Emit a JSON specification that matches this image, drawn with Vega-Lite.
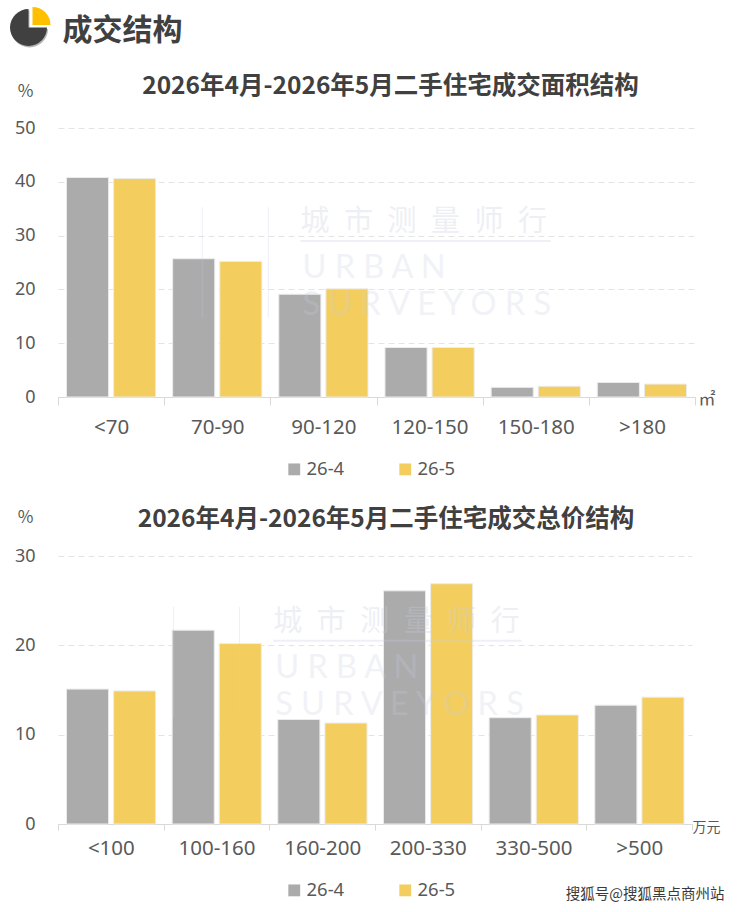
{
  "$schema": "https://vega.github.io/schema/vega-lite/v6.json",
  "padding": {"left": 10, "top": 0, "right": 0, "bottom": 0},
  "background": "white",
  "config": {
    "font": "Noto Sans CJK SC",
    "view": {"stroke": null},
    "axis": {"labelFont": "Noto Sans", "titleFont": "Noto Sans CJK SC"},
    "legend": {"labelFont": "Noto Sans"}
  },
  "datasets": {
    "area": [
      {"band": "<70", "month": "26-4", "share": 40.8},
      {"band": "<70", "month": "26-5", "share": 40.6},
      {"band": "70-90", "month": "26-4", "share": 25.7},
      {"band": "70-90", "month": "26-5", "share": 25.2},
      {"band": "90-120", "month": "26-4", "share": 19.1},
      {"band": "90-120", "month": "26-5", "share": 20.1},
      {"band": "120-150", "month": "26-4", "share": 9.2},
      {"band": "120-150", "month": "26-5", "share": 9.2},
      {"band": "150-180", "month": "26-4", "share": 1.8},
      {"band": "150-180", "month": "26-5", "share": 2.0},
      {"band": ">180", "month": "26-4", "share": 2.7},
      {"band": ">180", "month": "26-5", "share": 2.4}
    ],
    "price": [
      {"band": "<100", "month": "26-4", "share": 15.1},
      {"band": "<100", "month": "26-5", "share": 14.9},
      {"band": "100-160", "month": "26-4", "share": 21.7},
      {"band": "100-160", "month": "26-5", "share": 20.2},
      {"band": "160-200", "month": "26-4", "share": 11.7},
      {"band": "160-200", "month": "26-5", "share": 11.3},
      {"band": "200-330", "month": "26-4", "share": 26.1},
      {"band": "200-330", "month": "26-5", "share": 26.9},
      {"band": "330-500", "month": "26-4", "share": 11.9},
      {"band": "330-500", "month": "26-5", "share": 12.2},
      {"band": ">500", "month": "26-4", "share": 13.3},
      {"band": ">500", "month": "26-5", "share": 14.2}
    ],
    "pie": [{"from": 90, "to": 360, "part": "dark"}, {"from": 0, "to": 90, "part": "gold"}]
  },
  "spacing": 68,
  "bounds": "flush",
  "vconcat": [
    {
      "width": 1,
      "height": 60,
      "layer": [
        {
          "data": {"name": "pie"},
          "transform": [{"filter": "datum.part == 'dark'"}],
          "mark": {"type": "arc", "outerRadius": 18.5, "xOffset": -29, "yOffset": -1, "color": "#b5b5b5"},
          "encoding": {
            "theta": {"field": "from", "type": "quantitative", "scale": {"domain": [0, 360], "range": [0, 6.2832]}},
            "theta2": {"field": "to"}
          }
        },
        {
          "data": {"name": "pie"},
          "transform": [{"filter": "datum.part == 'dark'"}],
          "mark": {"type": "arc", "outerRadius": 18.5, "xOffset": -30, "yOffset": -2.5, "color": "#404040"},
          "encoding": {
            "theta": {"field": "from", "type": "quantitative", "scale": {"domain": [0, 360], "range": [0, 6.2832]}},
            "theta2": {"field": "to"}
          }
        },
        {
          "data": {"name": "pie"},
          "transform": [{"filter": "datum.part == 'gold'"}],
          "mark": {"type": "arc", "outerRadius": 18, "xOffset": -26, "yOffset": -5, "color": "#ffc000"},
          "encoding": {
            "theta": {"field": "from", "type": "quantitative", "scale": {"domain": [0, 360], "range": [0, 6.2832]}},
            "theta2": {"field": "to"}
          }
        },
        {
          "data": {"values": [{"label": "成交结构"}]},
          "mark": {"type": "text", "align": "left", "baseline": "middle", "xOffset": 4, "yOffset": 1, "fontSize": 30, "fontWeight": "bold", "color": "#404040"},
          "encoding": {"text": {"field": "label"}}
        }
      ]
    },
    {
      "spacing": 159,
      "bounds": "flush",
      "resolve": {"scale": {"color": "independent"}, "legend": {"color": "independent"}},
      "vconcat": [
        {
          "width": 637,
          "height": 269,
          "title": {"text": "2026年4月-2026年5月二手住宅成交面积结构", "fontSize": 24.5, "fontWeight": "bold", "color": "#404040", "anchor": "middle", "dx": 14, "offset": 0, "dy": 17},
          "encoding": {
            "x": {
              "field": "band",
              "type": "nominal",
              "sort": null,
              "scale": {"domain": ["<70", "70-90", "90-120", "120-150", "150-180", ">180"], "paddingInner": 0, "paddingOuter": 0},
              "axis": {"title": "㎡", "titleFontSize": 17, "titleFontWeight": "normal", "titleColor": "#595959", "titleAlign": "left", "titleX": 640, "titleY": -6, "labelAngle": 0, "labelFontSize": 20.5, "labelColor": "#595959", "labelPadding": 12, "tickBand": "extent", "tickColor": "#d9d9d9", "tickSize": 8, "domainColor": "#d9d9d9"}
            }
          },
          "layer": [
            {
              "data": {"name": "area"},
              "mark": {"type": "bar", "stroke": "#ececec", "strokeWidth": 1},
              "encoding": {
                "xOffset": {"field": "month", "type": "nominal", "scale": {"paddingInner": 0.106, "paddingOuter": 0.18}},
                "y": {
                  "field": "share",
                  "type": "quantitative",
                  "scale": {"domain": [0, 50]},
                  "axis": {"title": "%", "titleAngle": 0, "titleFontSize": 17, "titleFontWeight": "normal", "titleColor": "#595959", "titleX": -33, "titleY": -28, "titleAlign": "center", "values": [0, 10, 20, 30, 40, 50], "labelFontSize": 18, "labelColor": "#595959", "labelPadding": 23, "ticks": false, "domain": false, "gridColor": "#e4e4e4", "gridDash": [6, 4]}
                },
                "color": {
                  "field": "month",
                  "type": "nominal",
                  "scale": {"domain": ["26-4", "26-5"], "range": ["#ababab", "#f3ce5f"]},
                  "legend": {"title": null, "orient": "none", "direction": "horizontal", "legendX": 227, "legendY": 332, "symbolType": "square", "symbolSize": 140, "symbolStrokeWidth": 0, "labelFontSize": 18.5, "labelColor": "#595959", "columnPadding": 51, "labelOffset": 3}
                }
              }
            },
            {
              "data": {"values": [{"band": "90-120", "v": 32.5, "label": "城\u2002市\u2002测\u2002量\u2002师\u2002行"}]},
              "mark": {"type": "text", "align": "left", "baseline": "middle", "xOffset": -23, "fontSize": 29, "color": "#c8cde0", "opacity": 0.3},
              "encoding": {"y": {"field": "v", "type": "quantitative"}, "text": {"field": "label"}}
            },
            {
              "data": {"values": [{"band": "90-120", "band2": "150-180", "v": 29}]},
              "mark": {"type": "rule", "xOffset": -23, "x2Offset": 15, "strokeWidth": 2, "color": "#c8cde0", "opacity": 0.3},
              "encoding": {"x2": {"field": "band2"}, "y": {"field": "v", "type": "quantitative"}}
            },
            {
              "data": {"values": [{"band": "90-120", "v": 24, "label": "U R B A N"}, {"band": "90-120", "v": 17.1, "label": "S U R V E Y O R S"}]},
              "mark": {"type": "text", "align": "left", "baseline": "middle", "xOffset": -21, "fontSize": 32.5, "font": "Lato", "color": "#c8cde0", "opacity": 0.25},
              "encoding": {"y": {"field": "v", "type": "quantitative"}, "text": {"field": "label"}}
            },
            {
              "data": {"values": [{"band": "70-90", "v": 35.3, "v2": 14.7}]},
              "mark": {"type": "rule", "xOffset": -15, "color": "#c8cde0", "opacity": 0.3},
              "encoding": {"y": {"field": "v", "type": "quantitative"}, "y2": {"field": "v2"}}
            },
            {
              "data": {"values": [{"band": "70-90", "v": 35.3, "v2": 14.7}]},
              "mark": {"type": "rule", "xOffset": 51, "color": "#c8cde0", "opacity": 0.3},
              "encoding": {"y": {"field": "v", "type": "quantitative"}, "y2": {"field": "v2"}}
            }
          ]
        },
        {
          "width": 634,
          "height": 268,
          "title": {"text": "2026年4月-2026年5月二手住宅成交总价结构", "fontSize": 24.5, "fontWeight": "bold", "color": "#404040", "anchor": "middle", "dx": 11, "offset": 0, "dy": 24},
          "encoding": {
            "x": {
              "field": "band",
              "type": "nominal",
              "sort": null,
              "scale": {"domain": ["<100", "100-160", "160-200", "200-330", "330-500", ">500"], "paddingInner": 0, "paddingOuter": 0},
              "axis": {"title": "万元", "titleFontSize": 14, "titleFontWeight": "normal", "titleColor": "#595959", "titleAlign": "left", "titleX": 634, "titleY": -4, "labelAngle": 0, "labelFontSize": 20.5, "labelColor": "#595959", "labelPadding": 8, "tickBand": "extent", "tickColor": "#d9d9d9", "tickSize": 6, "domainColor": "#d9d9d9"}
            }
          },
          "layer": [
            {
              "data": {"name": "price"},
              "mark": {"type": "bar", "stroke": "#ececec", "strokeWidth": 1},
              "encoding": {
                "xOffset": {"field": "month", "type": "nominal", "scale": {"paddingInner": 0.106, "paddingOuter": 0.18}},
                "y": {
                  "field": "share",
                  "type": "quantitative",
                  "scale": {"domain": [0, 30]},
                  "axis": {"title": "%", "titleAngle": 0, "titleFontSize": 17, "titleFontWeight": "normal", "titleColor": "#595959", "titleX": -33, "titleY": -30, "titleAlign": "center", "values": [0, 10, 20, 30], "labelFontSize": 18, "labelColor": "#595959", "labelPadding": 23, "ticks": false, "domain": false, "gridColor": "#e4e4e4", "gridDash": [6, 4]}
                },
                "color": {
                  "field": "month",
                  "type": "nominal",
                  "scale": {"domain": ["26-4", "26-5"], "range": ["#ababab", "#f3ce5f"]},
                  "legend": {"title": null, "orient": "none", "direction": "horizontal", "legendX": 227, "legendY": 325, "symbolType": "square", "symbolSize": 140, "symbolStrokeWidth": 0, "labelFontSize": 18.5, "labelColor": "#595959", "columnPadding": 51, "labelOffset": 3}
                }
              }
            },
            {
              "data": {"values": [{"band": "160-200", "v": 22.6, "label": "城\u2002市\u2002测\u2002量\u2002师\u2002行"}]},
              "mark": {"type": "text", "align": "left", "baseline": "middle", "xOffset": -49, "fontSize": 29, "color": "#c8cde0", "opacity": 0.3},
              "encoding": {"y": {"field": "v", "type": "quantitative"}, "text": {"field": "label"}}
            },
            {
              "data": {"values": [{"band": "160-200", "band2": "330-500", "v": 20.5}]},
              "mark": {"type": "rule", "xOffset": -49, "x2Offset": -12, "strokeWidth": 2, "color": "#c8cde0", "opacity": 0.3},
              "encoding": {"x2": {"field": "band2"}, "y": {"field": "v", "type": "quantitative"}}
            },
            {
              "data": {"values": [{"band": "160-200", "v": 17.5, "label": "U R B A N"}, {"band": "160-200", "v": 13.3, "label": "S U R V E Y O R S"}]},
              "mark": {"type": "text", "align": "left", "baseline": "middle", "xOffset": -47, "fontSize": 32.5, "font": "Lato", "color": "#c8cde0", "opacity": 0.25},
              "encoding": {"y": {"field": "v", "type": "quantitative"}, "text": {"field": "label"}}
            },
            {
              "data": {"values": [{"band": "100-160", "v": 24.3, "v2": 11.9}]},
              "mark": {"type": "rule", "xOffset": -43, "color": "#c8cde0", "opacity": 0.3},
              "encoding": {"y": {"field": "v", "type": "quantitative"}, "y2": {"field": "v2"}}
            },
            {
              "data": {"values": [{"band": "100-160", "v": 24.3, "v2": 11.9}]},
              "mark": {"type": "rule", "xOffset": 23, "color": "#c8cde0", "opacity": 0.3},
              "encoding": {"y": {"field": "v", "type": "quantitative"}, "y2": {"field": "v2"}}
            },
            {
              "data": {"values": [{"band": ">500", "v": -7.95, "label": "搜狐号@搜狐黑点商州站"}]},
              "mark": {"type": "text", "align": "center", "baseline": "middle", "xOffset": 6, "fontSize": 14.5, "color": "#3a3a3a"},
              "encoding": {"y": {"field": "v", "type": "quantitative"}, "text": {"field": "label"}}
            }
          ]
        }
      ]
    }
  ]
}
